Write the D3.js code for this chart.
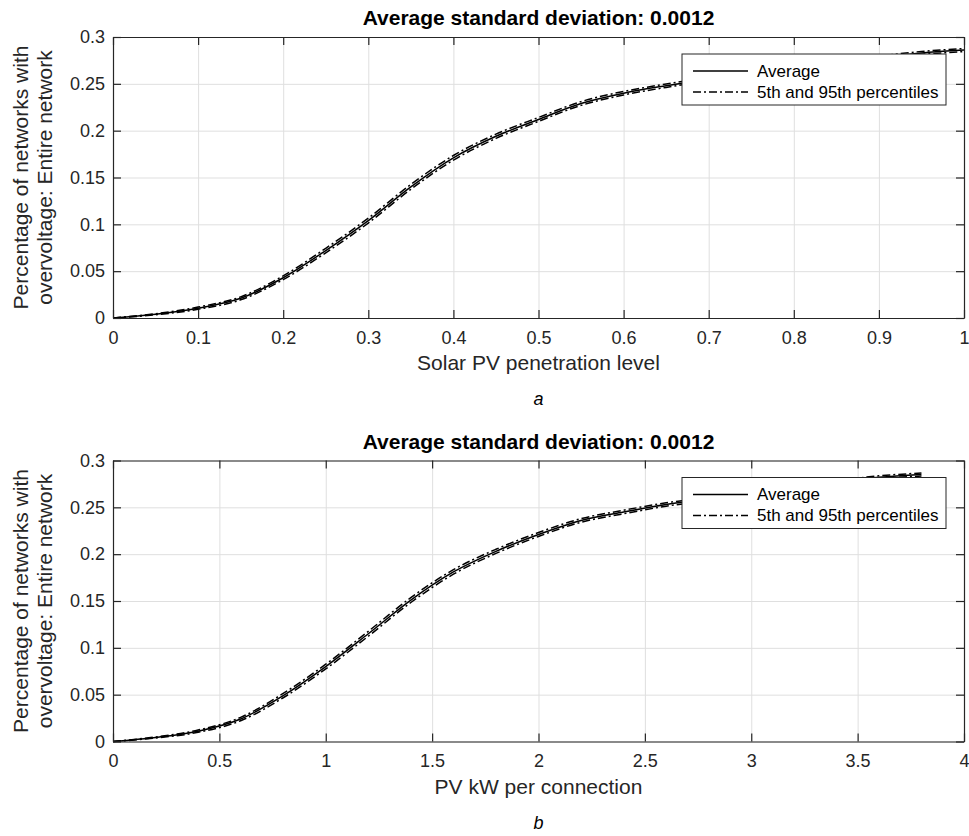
<!DOCTYPE html>
<html>
<head>
<meta charset="utf-8">
<script src="https://cdn.jsdelivr.net/npm/d3@7/dist/d3.min.js"></script>
<style>
	body { margin: 0; background: #fff; }
	text { font-family: "Liberation Sans", Arial, Helvetica, sans-serif; fill: #262626; }
	.grid line { stroke: #dfdfdf; stroke-width: 1; }
	.grid path { display: none; }
	.axis path, .axis line { stroke: #262626; stroke-width: 1.2; }
	.axis text { font-size: 18px; fill: #262626; }
	.avg_line { fill: none; stroke: #000; stroke-width: 1.5; }
	.pct_line { fill: none; stroke: #000; stroke-width: 1.5; stroke-dasharray: 8,3,2,3; }
	.title { font-size: 21px; font-weight: bold; fill: #000; }
	.label { font-size: 21px; }
	.caption { font-size: 18px; font-style: italic; fill: #000; }
	.legend text { font-size: 17px; fill: #000; }
</style>
</head>
<body>
<script>

const TITLE = "Average standard deviation: 0.0012";

// panel a: solar PV penetration level
let penLevel = [0, 0.05, 0.1, 0.15, 0.2, 0.25, 0.3, 0.35, 0.4, 0.45, 0.5,
	0.55, 0.6, 0.65, 0.7, 0.75, 0.8, 0.85, 0.9, 0.95, 1];
let penAverage = [0, 0.004, 0.0105, 0.021, 0.043, 0.072, 0.104, 0.140, 0.171, 0.194, 0.212,
	0.229, 0.240, 0.248, 0.255, 0.261, 0.267, 0.273, 0.278, 0.283, 0.286];
let penP95 = [0, 0.0046, 0.0117, 0.0226, 0.045, 0.0744, 0.1066, 0.1426, 0.1735, 0.1963, 0.2141,
	0.231, 0.2419, 0.2498, 0.2568, 0.2627, 0.2687, 0.2746, 0.2796, 0.2846, 0.2876];
let penP5 = [0, 0.0034, 0.0093, 0.0194, 0.041, 0.0696, 0.1014, 0.1374, 0.1685, 0.1917, 0.2099,
	0.227, 0.2381, 0.2462, 0.2532, 0.2593, 0.2653, 0.2714, 0.2764, 0.2814, 0.2844];

// panel b: PV kW per connection
let kwConn = [0, 0.2, 0.4, 0.6, 0.8, 1.0, 1.2, 1.4, 1.6, 1.8, 2.0,
	2.2, 2.4, 2.6, 2.8, 3.0, 3.2, 3.4, 3.6, 3.8];
let kwAverage = [0, 0.0043, 0.011, 0.024, 0.049, 0.080, 0.115, 0.151, 0.181, 0.203, 0.221,
	0.236, 0.245, 0.253, 0.259, 0.266, 0.272, 0.277, 0.282, 0.285];
let kwP95 = [0, 0.0049, 0.0122, 0.0258, 0.0513, 0.0825, 0.1176, 0.1536, 0.1834, 0.2052, 0.2231,
	0.2379, 0.2469, 0.2548, 0.2608, 0.2677, 0.2737, 0.2786, 0.2836, 0.2866];
let kwP5 = [0, 0.0037, 0.0098, 0.0222, 0.0467, 0.0775, 0.1124, 0.1484, 0.1786, 0.2008, 0.2189,
	0.2341, 0.2431, 0.2512, 0.2572, 0.2643, 0.2703, 0.2754, 0.2804, 0.2834];

// tick labels
let yTicks = [0, 0.05, 0.1, 0.15, 0.2, 0.25, 0.3];
let penTicks = [0, 0.1, 0.2, 0.3, 0.4, 0.5, 0.6, 0.7, 0.8, 0.9, 1];
let kwTicks = [0, 0.5, 1, 1.5, 2, 2.5, 3, 3.5, 4];

let legendNames = ["Average", "5th and 95th percentiles"];

let margin = {left: 113, right: 5};
let width = 969 - margin.left - margin.right;
let height = 281;
let tickLen = 8;

let svg = d3.select("body").append("svg")
	.attr("width", 969)
	.attr("height", 836);

function drawPanel(top, xDomain, xTicks, xs, avg, p5, p95, xLabel, caption) {
	let xScale = d3.scaleLinear().domain(xDomain).range([0, width]);
	let yScale = d3.scaleLinear().domain([0, 0.3]).range([height, 0]);
	let fmt = function(d) { return String(d); };

	let g = svg.append("g")
		.attr("transform", "translate(" + margin.left + "," + top + ")");

	// grid
	g.append("g")
		.attr("class", "grid")
		.call(d3.axisBottom(xScale).tickValues(xTicks).tickSize(height).tickFormat(""));
	g.append("g")
		.attr("class", "grid")
		.call(d3.axisLeft(yScale).tickValues(yTicks).tickSize(-width).tickFormat(""));

	// curves
	let line = function(ys) {
		return d3.line()
			.curve(d3.curveMonotoneX)
			.x(function(d, i) { return xScale(xs[i]); })
			.y(function(d) { return yScale(d); })(ys);
	};
	g.append("path").attr("class", "pct_line").attr("d", line(p95));
	g.append("path").attr("class", "pct_line").attr("d", line(p5));
	g.append("path").attr("class", "avg_line").attr("d", line(avg));

	// axes (ticks point inward, box all round)
	g.append("g")
		.attr("class", "axis")
		.attr("transform", "translate(0," + height + ")")
		.call(d3.axisBottom(xScale).tickValues(xTicks).tickFormat(fmt)
			.tickSizeInner(-tickLen).tickSizeOuter(0).tickPadding(13));
	g.append("g")
		.attr("class", "axis")
		.call(d3.axisTop(xScale).tickValues(xTicks).tickFormat("")
			.tickSizeInner(-tickLen).tickSizeOuter(0));
	g.append("g")
		.attr("class", "axis")
		.call(d3.axisLeft(yScale).tickValues(yTicks).tickFormat(fmt)
			.tickSizeInner(-tickLen).tickSizeOuter(0).tickPadding(8));
	g.append("g")
		.attr("class", "axis")
		.attr("transform", "translate(" + width + ",0)")
		.call(d3.axisRight(yScale).tickValues(yTicks).tickFormat("")
			.tickSizeInner(-tickLen).tickSizeOuter(0));
	g.selectAll(".axis text").attr("fill", "#262626");

	// title
	g.append("text")
		.attr("class", "title")
		.attr("x", width / 2)
		.attr("y", -12)
		.attr("text-anchor", "middle")
		.text(TITLE);

	// x label
	g.append("text")
		.attr("class", "label")
		.attr("x", width / 2)
		.attr("y", height + 52)
		.attr("text-anchor", "middle")
		.text(xLabel);

	// y label, two lines
	let ylab = g.append("text")
		.attr("class", "label")
		.attr("transform", "translate(" + (-margin.left) + "," + (height / 2) + ") rotate(-90)")
		.attr("text-anchor", "middle");
	ylab.append("tspan").attr("x", 0).attr("y", 28).text("Percentage of networks with");
	ylab.append("tspan").attr("x", 0).attr("y", 52).text("overvoltage: Entire network");

	// caption
	g.append("text")
		.attr("class", "caption")
		.attr("x", width / 2)
		.attr("y", height + 87)
		.attr("text-anchor", "middle")
		.text(caption);

	// legend
	let lg = g.append("g")
		.attr("class", "legend")
		.attr("transform", "translate(" + (682 - margin.left) + ",17)");
	lg.append("rect")
		.attr("width", 264)
		.attr("height", 51)
		.attr("fill", "#fff")
		.attr("stroke", "#262626")
		.attr("stroke-width", 1);
	legendNames.forEach(function(name, i) {
		let yy = 17 + i * 21;
		lg.append("line")
			.attr("class", i === 0 ? "avg_line" : "pct_line")
			.attr("x1", 11).attr("x2", 66)
			.attr("y1", yy).attr("y2", yy);
		lg.append("text")
			.attr("x", 75)
			.attr("y", yy)
			.attr("dy", "0.35em")
			.text(name);
	});
}

drawPanel(37, [0, 1], penTicks, penLevel, penAverage, penP5, penP95,
	"Solar PV penetration level", "a");
drawPanel(460.5, [0, 4], kwTicks, kwConn, kwAverage, kwP5, kwP95,
	"PV kW per connection", "b");

</script>
</body>
</html>
